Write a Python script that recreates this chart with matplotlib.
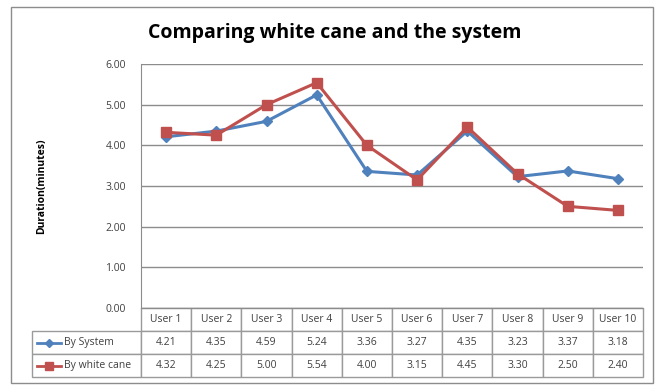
import matplotlib.pyplot as plt
from matplotlib.table import Table
from matplotlib.lines import Line2D
from matplotlib.patches import Rectangle

users = ["User 1", "User 2", "User 3", "User 4", "User 5",
         "User 6", "User 7", "User 8", "User 9", "User 10"]
by_system = [4.21, 4.35, 4.59, 5.24, 3.36, 3.27, 4.35, 3.23, 3.37, 3.18]
by_cane = [4.32, 4.25, 5.00, 5.54, 4.00, 3.15, 4.45, 3.30, 2.50, 2.40]
series_names = ["By System", "By white cane"]
y_ticks = [0, 1, 2, 3, 4, 5, 6]

blue = "#4F81BD"
red = "#C0504D"
grid_col = "#8C8C8C"
text_col = "#404040"

plt.rcParams['font.family'] = ['Open Sans', 'DejaVu Sans']

W, H = 658, 385
fig = plt.figure(figsize=(W / 100, H / 100), dpi=100)

# outer chart border
fig.add_artist(Rectangle((11 / W, 1 - 383 / H), 642 / W, 376 / H,
                         transform=fig.transFigure, fill=False,
                         edgecolor="#8C8C8C", linewidth=1))

left, right, top, bottom = 141, 643, 64, 308
ax = fig.add_axes([left / W, 1 - bottom / H, (right - left) / W, (bottom - top) / H])

x = list(range(len(users)))
ax.plot(x, by_system, color=blue, linewidth=2.2, marker="D", markersize=5,
        markerfacecolor=blue, markeredgecolor=blue, zorder=3)
ax.plot(x, by_cane, color=red, linewidth=2.2, marker="s", markersize=7,
        markerfacecolor=red, markeredgecolor=red, zorder=4)

ax.set_xlim(-0.5, len(users) - 0.5)
ax.set_ylim(0, 6)
ax.set_yticks(y_ticks)
ax.set_yticklabels([f"{v:.2f}" for v in y_ticks], fontsize=7.5, color=text_col)
ax.tick_params(axis="y", length=0, pad=11)
ax.set_xticks([])
ax.grid(axis="y", color=grid_col, linewidth=1)
ax.set_axisbelow(True)
for s in ["top", "right"]:
    ax.spines[s].set_visible(False)
ax.spines["left"].set_color(grid_col)
ax.spines["bottom"].set_color(grid_col)

ax.set_ylabel("Duration(minutes)", fontsize=7.5, fontweight="bold", labelpad=42)

fig.text(0.5 * (151 + 518) / W, 1 - 33 / H, "Comparing white cane and the system",
         ha="center", va="center", fontsize=14, fontweight="bold", color="black")

# data table below the plot
px_w = right - left
px_h = bottom - top
label_w = (left - 32) / px_w
col_w = 1.0 / len(users)
row_h = 23 / px_h
tbl = Table(ax, bbox=[-label_w, -3 * row_h, label_w + 1.0, 3 * row_h])
tbl.auto_set_font_size(False)
edge = "#9A9A9A"
c = tbl.add_cell(0, 0, width=label_w, height=row_h, text="")
c.visible_edges = ""
for j, u in enumerate(users):
    c = tbl.add_cell(0, j + 1, width=col_w, height=row_h, text=u, loc="center")
    c.set_edgecolor(edge)
    c.get_text().set_fontsize(7.5)
    c.get_text().set_color(text_col)
for i, vals in enumerate([by_system, by_cane]):
    c = tbl.add_cell(i + 1, 0, width=label_w, height=row_h, text="")
    c.set_edgecolor(edge)
    for j, v in enumerate(vals):
        c = tbl.add_cell(i + 1, j + 1, width=col_w, height=row_h, text=f"{v:.2f}", loc="center")
        c.set_edgecolor(edge)
        c.get_text().set_fontsize(7.5)
        c.get_text().set_color(text_col)
ax.add_table(tbl)

# legend keys inside the row label cells
keys = [(blue, "D", 4), (red, "s", 6)]
for i, (name, (col, mk, ms)) in enumerate(zip(series_names, keys)):
    yc = -(i + 1.5) * row_h
    x0 = (37 - left) / px_w
    x1 = (61 - left) / px_w
    ax.add_line(Line2D([x0, x1], [yc, yc], color=col, linewidth=2,
                       transform=ax.transAxes, clip_on=False))
    ax.add_line(Line2D([(x0 + x1) / 2], [yc], color=col, marker=mk, markersize=ms,
                       transform=ax.transAxes, clip_on=False))
    ax.text((64 - left) / px_w, yc, name, transform=ax.transAxes,
            ha="left", va="center", fontsize=7.5, color=text_col)

fig.savefig("out.png", dpi=100)
